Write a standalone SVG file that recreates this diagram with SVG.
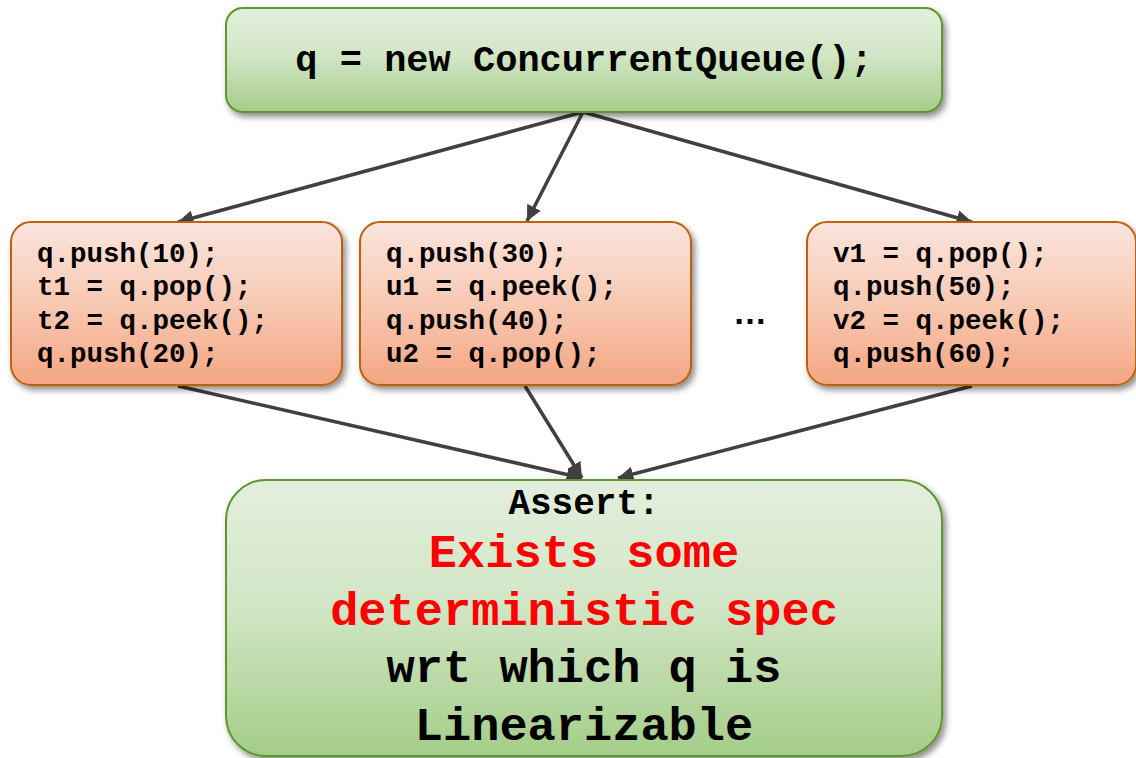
<svg xmlns="http://www.w3.org/2000/svg" width="1136" height="758" viewBox="0 0 1136 758">
  <defs>
    <linearGradient id="gGreen" x1="0" y1="0" x2="0" y2="1">
      <stop offset="0" stop-color="#e3efdd"/>
      <stop offset="0.45" stop-color="#d2e6c6"/>
      <stop offset="1" stop-color="#a3cd88"/>
    </linearGradient>
    <linearGradient id="gOrange" x1="0" y1="0" x2="0" y2="1">
      <stop offset="0" stop-color="#fbe5dd"/>
      <stop offset="0.5" stop-color="#f8c9b3"/>
      <stop offset="1" stop-color="#f4a582"/>
    </linearGradient>
    <filter id="shadow" x="-10%" y="-10%" width="125%" height="130%">
      <feDropShadow dx="3" dy="4" stdDeviation="3" flood-color="#000" flood-opacity="0.45"/>
    </filter>
    <marker id="arrow" viewBox="0 0 10 10" refX="10" refY="5" markerWidth="4.4" markerHeight="4.4" orient="auto" markerUnits="strokeWidth">
      <path d="M0,0 L10,5 L0,10 Z" fill="#404040"/>
    </marker>
    <style>
      .start { fill: url(#gGreen); stroke: #5f962e; stroke-width: 2; filter: url(#shadow); }
      .thread { fill: url(#gOrange); stroke: #bf600d; stroke-width: 2; filter: url(#shadow); }
      .code { font-family: "Liberation Mono", "Courier New", monospace; font-weight: bold; fill: #000; }
      .small { font-size: 27.5px; }
      .edge { stroke: #404040; stroke-width: 3.5; fill: none; marker-end: url(#arrow); }
      .red { fill: #ff0000; }
    </style>
  </defs>

  <!-- connectors -->
  <g id="connectors">
    <line class="edge" x1="583" y1="112" x2="178" y2="222"/>
    <line class="edge" x1="583" y1="112" x2="527" y2="221"/>
    <line class="edge" x1="583" y1="112" x2="972" y2="222"/>
    <line class="edge" x1="178" y1="386" x2="582" y2="478"/>
    <line class="edge" x1="525" y1="386" x2="582" y2="478"/>
    <line class="edge" x1="972" y1="386" x2="618" y2="478"/>
  </g>

  <!-- queue construction -->
  <g id="init">
    <rect class="start" x="226" y="8" width="716" height="104" rx="17"/>
    <text class="code" x="584" y="71" font-size="37" text-anchor="middle" xml:space="preserve">q = new ConcurrentQueue();</text>
  </g>

  <!-- thread 1 -->
  <g id="thread-t">
    <rect class="thread" x="11" y="222" width="331" height="163" rx="20"/>
    <text class="code small" x="37" y="262">q.push(10);</text>
    <text class="code small" x="37" y="295" xml:space="preserve">t1 = q.pop();</text>
    <text class="code small" x="37" y="329" xml:space="preserve">t2 = q.peek();</text>
    <text class="code small" x="37" y="362">q.push(20);</text>
  </g>

  <!-- thread 2 -->
  <g id="thread-u">
    <rect class="thread" x="360" y="222" width="331" height="163" rx="20"/>
    <text class="code small" x="386" y="262">q.push(30);</text>
    <text class="code small" x="386" y="295" xml:space="preserve">u1 = q.peek();</text>
    <text class="code small" x="386" y="329">q.push(40);</text>
    <text class="code small" x="386" y="362" xml:space="preserve">u2 = q.pop();</text>
  </g>

  <!-- more threads -->
  <g id="ellipsis">
    <text x="750" y="324" font-family="Liberation Sans, Arial, sans-serif" font-size="34" font-weight="bold" text-anchor="middle">…</text>
  </g>

  <!-- thread 3 -->
  <g id="thread-v">
    <rect class="thread" x="807" y="222" width="329" height="163" rx="20"/>
    <text class="code small" x="833" y="262" xml:space="preserve">v1 = q.pop();</text>
    <text class="code small" x="833" y="295">q.push(50);</text>
    <text class="code small" x="833" y="329" xml:space="preserve">v2 = q.peek();</text>
    <text class="code small" x="833" y="362">q.push(60);</text>
  </g>

  <!-- assertion -->
  <g id="assert">
    <rect class="start" x="226" y="480" width="716" height="276" rx="40"/>
    <text class="code" x="584" y="514" font-size="36" text-anchor="middle">Assert:</text>
    <text class="code red" x="584" y="567" font-size="47" text-anchor="middle" xml:space="preserve">Exists some</text>
    <text class="code red" x="584" y="625" font-size="47" text-anchor="middle" xml:space="preserve">deterministic spec</text>
    <text class="code" x="584" y="682" font-size="47" text-anchor="middle" xml:space="preserve">wrt which q is</text>
    <text class="code" x="584" y="740" font-size="47" text-anchor="middle">Linearizable</text>
  </g>
</svg>
